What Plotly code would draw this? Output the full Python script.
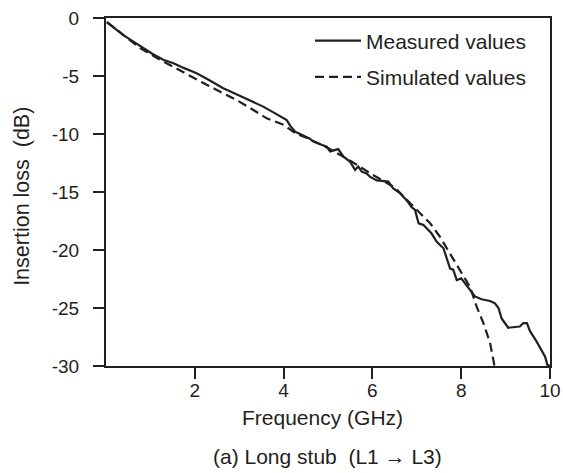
import plotly.graph_objects as go

# Measured insertion loss (GHz, dB)
meas_freq = [0.02, 0.2, 0.39, 0.6, 0.84, 1.05, 1.29, 1.4, 1.52, 1.75, 2.04, 2.3, 2.64, 2.95,
             3.24, 3.4, 3.54, 3.8, 4.07, 4.15, 4.26, 4.37, 4.59, 4.67, 4.97, 5.05, 5.23, 5.35,
             5.5, 5.61, 5.68, 5.76, 5.87, 5.95, 6.1, 6.36, 6.47, 6.62, 6.77, 6.88, 6.96, 7.04,
             7.15, 7.33, 7.45, 7.6, 7.67, 7.75, 7.82, 7.9, 8.0, 8.16, 8.31, 8.46, 8.65, 8.76,
             8.84, 8.91, 9.06, 9.32, 9.4, 9.48, 9.55, 9.7, 9.81, 9.89, 9.94, 10.0]
meas_loss = [-0.35, -0.9, -1.47, -2.0, -2.6, -3.1, -3.6, -3.75, -3.9, -4.3, -4.77, -5.3, -6.06, -6.6,
             -7.13, -7.4, -7.64, -8.2, -8.8, -9.3, -9.8, -10.0, -10.4, -10.66, -11.1, -11.5, -11.3, -11.95,
             -12.4, -13.1, -12.8, -13.25, -13.4, -13.7, -14.0, -14.1, -14.7, -15.1, -15.7, -16.3, -16.55, -17.7,
             -17.85, -18.56, -19.3, -19.85, -20.7, -21.6, -21.7, -22.6, -22.45, -23.3, -24.0, -24.25, -24.4, -24.6,
             -25.0, -25.9, -26.7, -26.6, -26.3, -26.3, -27.0, -27.9, -28.6, -29.2, -29.9, -30.0]

# Simulated insertion loss (GHz, dB)
sim_freq = [0.02, 0.4, 0.77, 1.1, 1.44, 1.82, 2.19, 2.57, 2.94, 3.32, 3.62, 4.0, 4.29, 4.5,
            5.0, 5.5, 6.0, 6.5, 6.92, 7.15, 7.3, 7.52, 7.75, 7.97, 8.2, 8.35, 8.5, 8.65, 8.72, 8.75]
sim_loss = [-0.35, -1.5, -2.6, -3.35, -4.05, -4.9, -5.6, -6.35, -7.07, -7.93, -8.65, -9.2, -10.0, -10.3,
            -11.2, -12.3, -13.5, -14.6, -16.2, -17.1, -17.7, -18.85, -20.3, -21.7, -23.2, -24.9, -26.3, -28.0, -29.6, -30.0]

x_ticks = [2, 4, 6, 8, 10]
y_ticks = [0, -5, -10, -15, -20, -25, -30]

INK = "#231f20"
FONT = "Liberation Sans, Arial, Helvetica, sans-serif"

fig = go.Figure()
fig.add_trace(go.Scatter(x=meas_freq, y=meas_loss, mode="lines", name="Measured values",
                         legendgroup="m", line=dict(color=INK, width=2.2)))
fig.add_trace(go.Scatter(x=sim_freq, y=sim_loss, mode="lines", name="Simulated values",
                         legendgroup="s", line=dict(color=INK, width=2.2, dash="9px,5px")))

axis_common = dict(showline=True, linecolor=INK, linewidth=2, mirror=True, showgrid=False,
                   zeroline=False, ticks="outside", ticklen=11, tickwidth=2, tickcolor=INK,
                   automargin=False, ticklabeloverflow="allow",
                   tickfont=dict(family=FONT, size=19, color=INK))

fig.update_xaxes(range=[0, 10], tickvals=x_ticks, ticktext=[str(v) for v in x_ticks],
                 ticklabelstandoff=-5, **axis_common)
fig.update_yaxes(range=[-30, 0], tickvals=y_ticks, ticktext=[str(v) for v in y_ticks],
                 ticklabelstandoff=10, **axis_common)

fig.update_layout(
    width=563, height=473,
    margin=dict(l=106, r=13, t=18, b=107),
    plot_bgcolor="white", paper_bgcolor="white",
    showlegend=True,
    legend=dict(x=0.4595, y=0.993, xanchor="left", yanchor="top", bgcolor="rgba(0,0,0,0)",
                font=dict(family=FONT, size=21, color=INK), traceorder="grouped",
                tracegroupgap=6, itemwidth=46),
    annotations=[
        dict(text="Insertion loss\u00a0\u00a0(dB)", xref="paper", yref="paper", x=-0.1895, y=0.4885,
             xanchor="center", yanchor="middle", textangle=-90, showarrow=False,
             font=dict(family=FONT, size=21.5, color=INK)),
        dict(text="Frequency (GHz)", xref="paper", yref="paper", x=0.4865, y=-0.1494,
             xanchor="center", yanchor="middle", showarrow=False,
             font=dict(family=FONT, size=21, color=INK)),
        dict(text="(a) Long stub\u00a0\u00a0(L1 \u2192 L3)", xref="paper", yref="paper", x=0.4996, y=-0.26,
             xanchor="center", yanchor="middle", showarrow=False,
             font=dict(family=FONT, size=21, color=INK)),
    ],
)

fig.write_html("out.html", config={"displayModeBar": False},
               post_script="document.body.style.margin='0';document.body.style.overflow='hidden';")
